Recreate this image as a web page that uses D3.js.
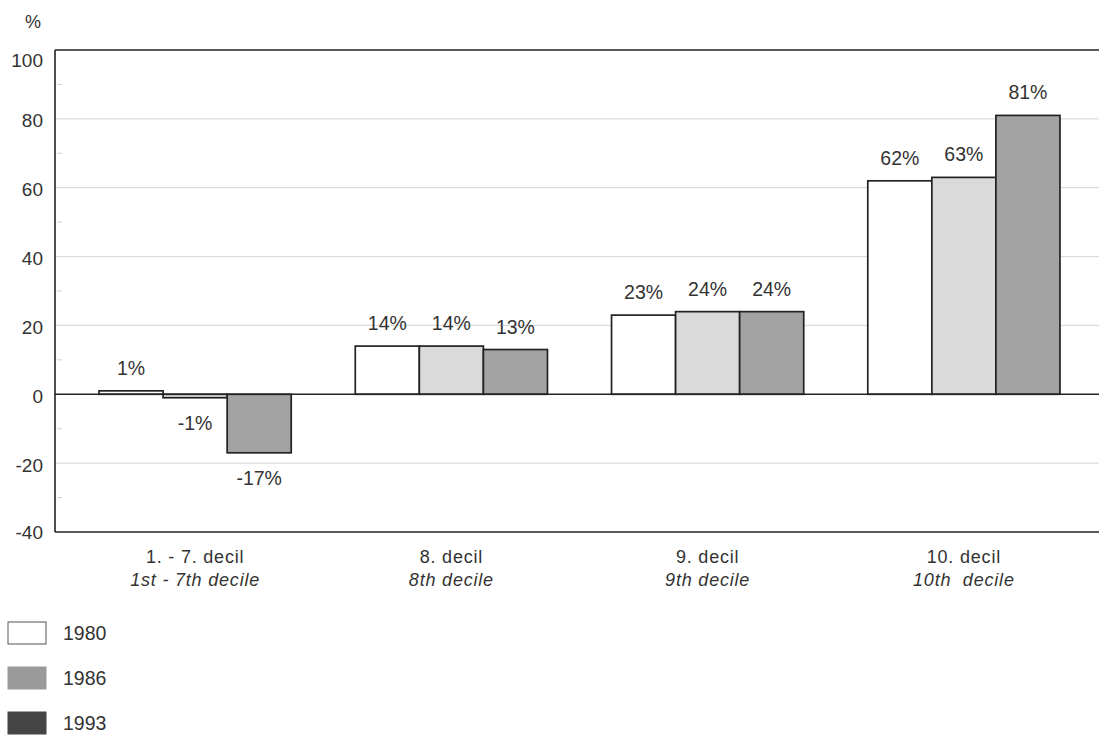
<!DOCTYPE html>
<html><head><meta charset="utf-8">
<script src="https://cdn.jsdelivr.net/npm/d3@7"></script>
<style>body{margin:0;background:#fff}svg{font-family:"Liberation Sans",Arial,sans-serif}</style>
</head><body>
<svg id="c" width="1099" height="735"></svg>
<script>
const categories = ["1. - 7. decil", "8. decil", "9. decil", "10. decil"];
const categoriesEn = ["1st - 7th decile", "8th decile", "9th decile", "10th  decile"];
const series = ["1980", "1986", "1993"];
const values1980 = [1, 14, 23, 62];
const values1986 = [-1, 14, 24, 63];
const values1993 = [-17, 13, 24, 81];
const yTicks = [100, 80, 60, 40, 20, 0, -20, -40];
const minorTicks = [90, 70, 50, 30, 10, -10, -30];

const barFill = {"1980": "#ffffff", "1986": "#dadada", "1993": "#a3a3a3"};
const legendFill = {"1980": "#ffffff", "1986": "#9a9a9a", "1993": "#454545"};
const valuesBySeries = {"1980": values1980, "1986": values1986, "1993": values1993};

const svg = d3.select("#c");
const mLeft = 55, mTop = 50, mRight = 1099, mBottom = 532;
const y = d3.scaleLinear().domain([-40, 100]).range([mBottom, mTop]);
const x0 = d3.scaleBand().domain(categories).range([67, 1092]);
const x1 = d3.scaleBand().domain(series).range([0, x0.bandwidth()]).paddingOuter(0.5);
const txt = "#333";

// gridlines
svg.append("g").selectAll("line").data(yTicks.filter(t => t !== 0 && t !== 100 && t !== -40))
  .join("line").attr("x1", mLeft).attr("x2", mRight)
  .attr("y1", d => y(d)).attr("y2", d => y(d))
  .attr("stroke", "#dcdcdc").attr("stroke-width", 1.2);

// minor ticks
svg.append("g").selectAll("line").data(minorTicks).join("line")
  .attr("x1", mLeft + 2).attr("x2", mLeft + 7).attr("y1", d => y(d)).attr("y2", d => y(d))
  .attr("stroke", "#d0d0d0");

// frame
svg.append("line").attr("x1", mLeft).attr("x2", mRight).attr("y1", mTop).attr("y2", mTop).attr("stroke", "#222").attr("stroke-width", 1.6);
svg.append("line").attr("x1", mLeft).attr("x2", mRight).attr("y1", mBottom).attr("y2", mBottom).attr("stroke", "#222").attr("stroke-width", 1.6);
svg.append("line").attr("x1", mLeft).attr("x2", mLeft).attr("y1", mTop).attr("y2", mBottom).attr("stroke", "#222").attr("stroke-width", 1.6);

// y axis labels
const yAxis = d3.axisLeft(y).tickValues(yTicks).tickSize(0).tickPadding(12).tickFormat(d => String(d));
const ga = svg.append("g").attr("transform", `translate(${mLeft},0)`).call(yAxis);
ga.select(".domain").remove();
ga.attr("font-size", 19).attr("font-family", "'Liberation Sans',Arial,sans-serif");
ga.selectAll("text").attr("fill", txt).attr("dy", d => d === 100 ? "0.85em" : (d === -40 ? "0.32em" : "0.42em"));
svg.append("text").attr("x", 25).attr("y", 28).attr("font-size", 18).attr("fill", txt).text("%");

// bars
const groups = svg.append("g").selectAll("g").data(categories).join("g")
  .attr("transform", d => `translate(${x0(d)},0)`);
groups.selectAll("rect").data((c, i) => series.map(s => ({s, v: valuesBySeries[s][i]})))
  .join("rect")
  .attr("x", d => x1(d.s)).attr("width", x1.bandwidth())
  .attr("y", d => y(Math.max(0, d.v))).attr("height", d => Math.abs(y(d.v) - y(0)))
  .attr("fill", d => barFill[d.s]).attr("stroke", "#222").attr("stroke-width", 1.7);
groups.selectAll("text").data((c, i) => series.map(s => ({s, v: valuesBySeries[s][i]})))
  .join("text")
  .attr("x", d => x1(d.s) + x1.bandwidth() / 2)
  .attr("y", d => d.v >= 0 ? y(d.v) - 16 : y(d.v) + 32)
  .attr("text-anchor", "middle").attr("font-size", 19.5).attr("fill", txt)
  .text(d => d.v + "%");

// zero line
svg.append("line").attr("x1", mLeft).attr("x2", mRight).attr("y1", y(0)).attr("y2", y(0)).attr("stroke", "#222").attr("stroke-width", 1.6);

// category labels
const cl = svg.append("g");
cl.selectAll("text.da").data(categories).join("text").attr("class", "da")
  .attr("x", d => x0(d) + x0.bandwidth() / 2).attr("y", 563)
  .attr("text-anchor", "middle").attr("font-size", 18).attr("letter-spacing", 0.8).attr("fill", txt).text(d => d);
cl.selectAll("text.en").data(categoriesEn).join("text").attr("class", "en")
  .attr("x", (d, i) => x0(categories[i]) + x0.bandwidth() / 2).attr("y", 586)
  .attr("text-anchor", "middle").attr("font-size", 18).attr("letter-spacing", 0.8).attr("font-style", "italic").attr("fill", txt)
  .style("white-space", "pre").text(d => d);

// legend
const lg = svg.append("g").selectAll("g").data(series).join("g")
  .attr("transform", (d, i) => `translate(8,${622 + i * 45})`);
lg.append("rect").attr("width", 38).attr("height", 22)
  .attr("fill", d => legendFill[d]).attr("stroke", d => d === "1980" ? "#555" : legendFill[d]).attr("stroke-width", 1);
lg.append("text").attr("x", 55).attr("y", 18).attr("font-size", 19.5).attr("fill", txt).text(d => d);
</script>
</body></html>
